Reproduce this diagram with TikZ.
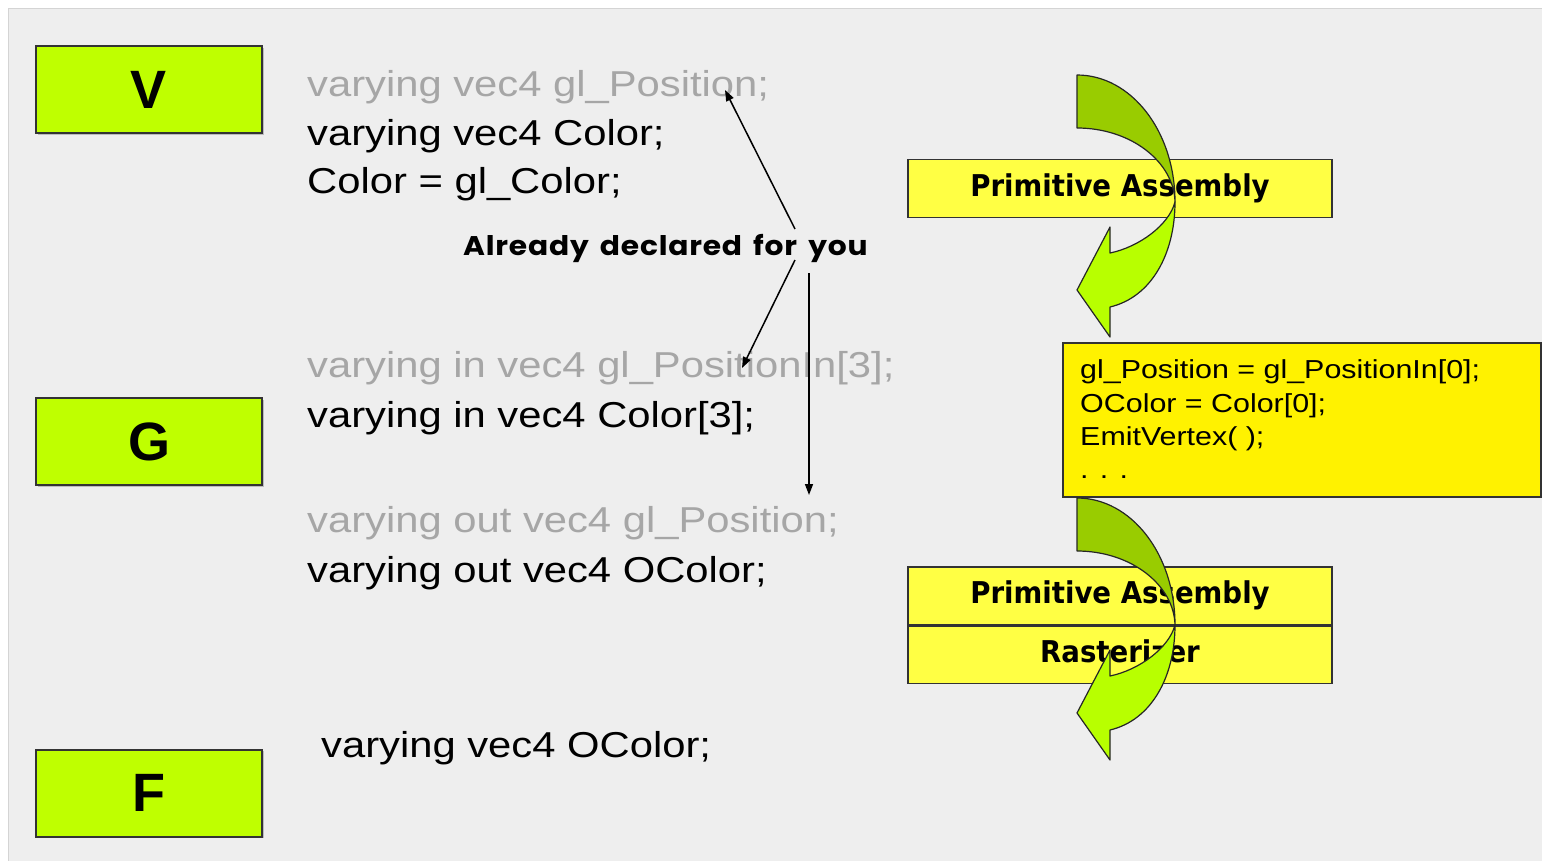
\documentclass[tikz,border=0pt]{standalone}
\usepackage{fontspec}
\setmainfont{Liberation Sans}
\newfontfamily\codefont[FakeStretch=1.16]{Liberation Sans}
\newfontfamily\boxfont[FakeStretch=1.17]{Liberation Sans}
\newfontfamily\pafont[FakeStretch=0.92]{DejaVu Sans}
\newfontfamily\notefont[FakeStretch=1.1,LetterSpace=3]{Poppins}
\usetikzlibrary{arrows.meta,shadows}

\definecolor{panel}{RGB}{238,238,238}
\definecolor{panelline}{RGB}{212,212,212}
\definecolor{lime}{RGB}{191,255,0}
\definecolor{limedark}{RGB}{153,204,0}
\definecolor{limelight}{RGB}{184,255,0}
\definecolor{paleyellow}{RGB}{255,255,68}
\definecolor{codegray}{RGB}{166,166,166}

\begin{document}
\begin{tikzpicture}[x=1pt,y=-1pt,
  stage/.style={draw=black!80, line width=2pt, fill=lime, minimum width=226pt,
    minimum height=87pt, inner sep=0pt,
    drop shadow={shadow xshift=1.5pt, shadow yshift=-1.5pt, opacity=0.45},
    font=\bfseries\fontsize{54}{60}\selectfont},
  code/.style={anchor=base west, inner sep=0pt, font=\codefont\fontsize{36}{40}\selectfont},
  dim/.style={code, text=codegray},
  gscode/.style={anchor=base west, inner sep=0pt, font=\boxfont\fontsize{26}{30}\selectfont},
  pabox/.style={draw=black!80, line width=1.6pt, fill=paleyellow, minimum width=424pt,
    inner sep=0pt, font=\pafont\bfseries\fontsize{30}{34}\selectfont,
    text height=22pt, text depth=7pt},
  note/.style={inner sep=0pt, anchor=base west, font=\notefont\bfseries\fontsize{27}{30}\selectfont},
  pointer/.style={draw=black, line width=1.5pt, -{Triangle[length=11pt,width=8pt]}},
  bandback/.style={fill=limedark, draw=black!85, line width=1.2pt, line join=round},
  bandfront/.style={fill=limelight, draw=black!85, line width=1.2pt, line join=round},
  curvearrow/.pic={
    % back face of the ribbon
    \path[bandback] (0,0) .. controls (54,0) and (98,56) .. (98,127)
      .. controls (97,87) and (54,53) .. (0,53) -- cycle;
    % front face with the head pointing left
    \path[bandfront] (98,127) .. controls (98,178) and (75,222) .. (33,232)
      -- (33,262) -- (0,215) -- (33,152) -- (33,178)
      .. controls (62,172) and (92,150) .. (98,127) -- cycle;
  }
]
\useasboundingbox (0,0) rectangle (1542,860);
\fill[white] (0,0) rectangle (1542,860);
\filldraw[fill=panel, draw=panelline, line width=1pt] (8,8) rectangle (1560,880);

% shader stages
\node[stage] (V) at (149,89.5) {V};
\node[stage] (G) at (149,441.5) {G};
\node[stage] (F) at (149,793) {F};

% vertex shader declarations
\node[dim]  (v1) at (307,96)  {varying vec4 gl\_Position;};
\node[code] (v2) at (307,145) {varying vec4 Color;};
\node[code] (v3) at (307,193) {Color = gl\_Color;};

% geometry shader declarations
\node[dim]  (g1) at (307,377) {varying in vec4 gl\_PositionIn[3];};
\node[code] (g2) at (307,427) {varying in vec4 Color[3];};
\node[dim]  (g3) at (307,532) {varying out vec4 gl\_Position;};
\node[code] (g4) at (307,582) {varying out vec4 OColor;};

% fragment shader declaration
\node[code] (f1) at (321,757) {varying vec4 OColor;};

% built-in note and its pointers
\node[note] (decl) at (463,255) {Already\hspace{4pt} declared\hspace{4pt} for\hspace{4pt} you};
\coordinate (s1) at (795,229);
\coordinate (s2) at (795,260);
\coordinate (s3) at (809,273);
\coordinate (t1) at (725,90);
\coordinate (t2) at (742,368);
\coordinate (t3) at (809,495);
\draw[pointer] (s1) -- (t1);
\draw[pointer] (s2) -- (t2);
\draw[pointer] (s3) -- (t3);

% fixed-function stages
\node[pabox, minimum height=58pt] (pa1) at (1120,188.5) {Primitive Assembly};
\node[pabox, minimum height=58pt] (pa2) at (1120,596) {Primitive Assembly};
\node[pabox, minimum height=57pt, anchor=north] (rast) at (pa2.south) {Rasterizer};

% geometry shader body
\node[draw=black!80, line width=1.6pt, fill=yellow, anchor=north west,
  minimum width=478pt, minimum height=154pt, inner sep=0pt] (gs) at (1062,342) {};
\node[gscode] (gs1) at (1080,378) {gl\_Position = gl\_PositionIn[0];};
\node[gscode] (gs2) at (1080,412) {OColor = Color[0];};
\node[gscode] (gs3) at (1080,445) {EmitVertex( );};
\node[gscode] (gs4) at (1080,478) {. . .};

% flow arrows through the fixed-function stages
\pic at (1077,75) {curvearrow};
\pic at (1077,498) {curvearrow};
\end{tikzpicture}
\end{document}
